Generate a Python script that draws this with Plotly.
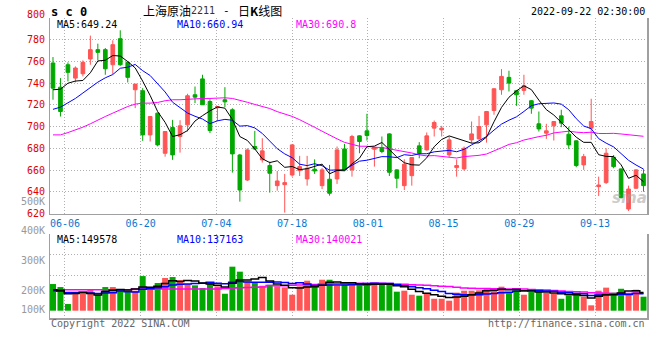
import plotly.graph_objects as go
import pandas as pd

# ---------------- data ----------------
dates = ["06-01", "06-02", "06-06", "06-07", "06-08", "06-09", "06-10", "06-13", "06-14", "06-15",
         "06-16", "06-17", "06-20", "06-21", "06-22", "06-23", "06-24", "06-27", "06-28", "06-29",
         "06-30", "07-01", "07-04", "07-05", "07-06", "07-07", "07-08", "07-11", "07-12", "07-13",
         "07-14", "07-15", "07-18", "07-19", "07-20", "07-21", "07-22", "07-25", "07-26", "07-27",
         "07-28", "07-29", "08-01", "08-02", "08-03", "08-04", "08-05", "08-08", "08-09", "08-10",
         "08-11", "08-12", "08-15", "08-16", "08-17", "08-18", "08-19", "08-22", "08-23", "08-24",
         "08-25", "08-26", "08-29", "08-30", "08-31", "09-01", "09-02", "09-05", "09-06", "09-07",
         "09-08", "09-09", "09-13", "09-14", "09-15", "09-16", "09-19", "09-20", "09-21", "09-22"]

opens = [758.6, 736.4, 757.0, 744.7, 748.7, 762.3, 770.9, 770.9, 757.0, 781.0,
         759.2, 734.0, 733.1, 692.5, 712.5, 675.6, 699.3, 691.0, 701.7, 729.4,
         744.0, 723.2, 717.5, 724.8, 715.6, 674.0, 651.0, 681.8, 669.5, 664.3,
         645.8, 646.7, 655.6, 659.6, 652.0, 660.9, 645.8, 651.7, 652.0, 679.6,
         660.3, 691.6, 696.2, 679.3, 680.8, 693.4, 660.3, 645.8, 655.0, 682.4,
         678.7, 698.7, 697.1, 674.1, 662.4, 661.2, 687.9, 688.8, 701.7, 714.9,
         734.0, 745.4, 733.1, 733.4, 723.9, 702.7, 694.1, 700.8, 710.0, 693.1,
         687.0, 664.9, 698.7, 644.9, 648.6, 671.9, 661.2, 624.3, 643.4, 656.6]
highs = [764.1, 744.7, 759.2, 755.5, 761.0, 783.8, 776.4, 772.4, 779.5, 788.7,
         760.0, 739.2, 735.5, 709.4, 713.0, 696.0, 706.3, 706.0, 730.3, 737.0,
         747.8, 725.4, 719.0, 736.4, 717.0, 675.0, 680.2, 696.2, 689.4, 668.0,
         659.3, 656.6, 684.0, 673.2, 673.2, 670.0, 662.0, 664.9, 681.8, 684.2,
         692.5, 692.0, 711.9, 681.5, 691.0, 694.0, 661.0, 670.0, 672.0, 685.8,
         694.7, 705.7, 700.8, 691.0, 670.0, 681.8, 704.8, 710.0, 714.5, 735.5,
         753.0, 751.5, 733.5, 747.8, 724.5, 714.0, 702.7, 705.0, 715.6, 700.0,
         687.5, 675.0, 725.7, 654.1, 680.2, 674.0, 661.5, 645.8, 661.0, 660.9]
lows = [724.8, 709.4, 741.7, 740.7, 746.3, 757.0, 761.0, 747.8, 748.4, 756.0,
        740.7, 717.1, 687.0, 686.4, 682.0, 672.5, 669.5, 676.2, 695.6, 721.7,
        720.2, 694.1, 705.0, 718.0, 657.8, 631.1, 650.0, 678.7, 667.0, 639.4,
        641.2, 621.0, 654.0, 654.7, 645.8, 656.6, 642.7, 636.6, 647.4, 659.5,
        654.1, 675.6, 687.3, 663.3, 675.6, 654.7, 643.4, 641.8, 645.8, 671.0,
        678.0, 691.0, 691.0, 671.9, 654.1, 659.6, 684.8, 688.0, 685.4, 711.0,
        729.4, 732.4, 719.2, 729.4, 711.9, 695.6, 688.8, 687.3, 699.6, 679.6,
        662.7, 660.3, 687.9, 636.3, 647.4, 661.8, 634.0, 622.5, 643.0, 640.3]
closes = [735.5, 714.0, 750.0, 754.0, 759.2, 770.9, 768.4, 753.3, 775.5, 757.0,
          745.4, 739.2, 692.5, 709.4, 683.3, 695.6, 674.1, 700.8, 728.5, 727.2,
          720.2, 696.5, 718.5, 722.9, 675.0, 641.8, 678.7, 679.6, 677.8, 657.2,
          650.1, 648.6, 683.3, 663.3, 661.8, 659.3, 660.3, 638.8, 678.7, 660.3,
          691.0, 686.4, 691.9, 681.1, 677.2, 658.1, 652.6, 665.5, 671.6, 675.6,
          691.6, 703.9, 698.7, 687.9, 664.3, 680.2, 693.4, 700.2, 714.0, 734.9,
          746.3, 740.1, 729.4, 737.7, 717.1, 698.0, 696.2, 704.8, 703.3, 683.3,
          664.3, 672.5, 704.8, 646.4, 675.6, 663.3, 634.8, 642.7, 660.3, 645.8]
volumes_k = [218.7, 194, 54.7, 142, 150, 169, 131, 194, 194, 178,
             156, 164, 284, 175, 227, 268, 276, 251, 219, 208,
             186, 235, 199.5, 139, 361, 320, 240, 235, 205, 213,
             199.5, 191, 131, 199.5, 246, 213, 254, 254, 205, 216,
             216, 216, 208, 230, 216, 213, 156, 164, 131, 123,
             139, 98, 98, 82, 148, 164, 164, 167, 180, 167,
             197, 148, 180, 131, 153, 156, 145, 139, 98, 126,
             142, 115, 44, 164, 189, 148, 180, 131, 172, 115]

# moving-average values before enough history exists
ma5_head = [734.0, 734.5, 740.0, 742.0]
ma10_head = [716.0, 718.0, 722.0, 726.0, 731.0, 736.0, 741.0, 745.0, 748.0]
ma30_head = [692.5, 692.5, 694.6, 697.0, 699.6, 702.7, 706.3, 709.4, 712.5, 715.6,
             718.6, 720.8, 721.7, 721.7, 722.3, 723.9, 724.8, 724.8, 725.4, 725.7,
             726.0, 726.0, 726.6, 726.6, 726.0, 724.5, 722.5, 720.5, 718.5]
vma5_head = [172, 167, 139, 142]
vma10_head = [164, 159, 150, 150, 150, 145, 142, 145, 148]
vma30_head = [172] * 11 + [178] * 12 + [183, 186, 188, 191, 193, 195]

tick_labels = ["06-06", "06-20", "07-04", "07-18", "08-01", "08-15", "08-29", "09-13"]
price_ticks = [620, 640, 660, 680, 700, 720, 740, 760, 780, 800]
vol_axis_labels = ["500K", "400K", "300K", "200K", "100K"]
ma_price_text = ["MA5:649.24", "MA10:660.94", "MA30:690.8"]
ma_vol_text = ["MA5:149578", "MA10:137163", "MA30:140021"]
title_time = "2022-09-22 02:30:00"

# ---------------- helpers ----------------
RED = "#ff5555"
GREEN = "#00a800"
MONO = "DejaVu Sans Mono"
CJK = "Noto Sans CJK SC"
L, R, T, B = 50, 649, 18, 318


def xp(px):
    return (px - L) / (R - L)


def yp(py):
    return (B - py) / (B - T)


def moving(vals, n, head):
    s = pd.Series(vals, dtype=float).rolling(n).mean()
    out = s.tolist()
    out[:len(head)] = head
    return out


x = list(range(len(dates)))
volumes = [v * 1000 for v in volumes_k]
ma5 = moving(closes, 5, ma5_head)
ma10 = moving(closes, 10, ma10_head)
ma30 = moving(closes, 30, ma30_head)
vma5 = moving(volumes, 5, [v * 1000 for v in vma5_head])
vma10 = moving(volumes, 10, [v * 1000 for v in vma10_head])
vma30 = moving(volumes, 30, [v * 1000 for v in vma30_head])
bar_colors = [RED if c >= o else GREEN for o, c in zip(opens, closes)]

fig = go.Figure()
fig.add_trace(go.Candlestick(
    x=x, open=opens, high=highs, low=lows, close=closes,
    increasing=dict(line=dict(color=RED, width=1), fillcolor=RED),
    decreasing=dict(line=dict(color=GREEN, width=1), fillcolor=GREEN),
    whiskerwidth=0, xaxis="x", yaxis="y", hoverinfo="skip"))
for vals, col in [(ma30, "#ff00ff"), (ma10, "#0000ff"), (ma5, "#000000")]:
    fig.add_trace(go.Scatter(x=x, y=vals, mode="lines", line=dict(color=col, width=1),
                             xaxis="x", yaxis="y", hoverinfo="skip"))

fig.add_trace(go.Bar(x=x, y=volumes, marker=dict(color=bar_colors, line=dict(width=0)),
                     width=0.8, xaxis="x2", yaxis="y2", hoverinfo="skip"))
for vals, col in [(vma30, "#ff00ff"), (vma10, "#0000ff"), (vma5, "#000000")]:
    fig.add_trace(go.Scatter(x=x, y=vals, mode="lines", line=dict(color=col, width=1.5, shape="hvh"),
                             xaxis="x2", yaxis="y2", hoverinfo="skip"))

# layout positions
px_step = 7.5
x0_px = 53
xr = [(L - x0_px) / px_step, (R - x0_px) / px_step]
tick_pos = [1.6 + k * 10.13 for k in range(len(tick_labels))]
GRID = "#b0b0b0"
AXL = "#a0a0a0"
vk = 8200  # volume per pixel
vol_base_px = 310.7
vol_range = [-(B - vol_base_px) * vk, (vol_base_px - 234) * vk]
vol_grid = [(vol_base_px - 254.7) * vk, (vol_base_px - 275.7) * vk, vol_range[1]]

fig.update_layout(
    width=660, height=360,
    margin=dict(l=L, r=660 - R, t=T, b=360 - B),
    paper_bgcolor="white", plot_bgcolor="white",
    showlegend=False, hovermode=False, boxgap=0.3, bargap=0.2,
    xaxis=dict(domain=[0, 1], range=xr, anchor="y", tickvals=tick_pos, ticktext=tick_labels,
               showgrid=True, gridcolor=GRID, griddash="1px,2px", gridwidth=1,
               showline=True, linecolor=AXL, linewidth=1.5, zeroline=False,
               ticks="", tickfont=dict(family=MONO, size=10, color="#0a78d2"),
               rangeslider=dict(visible=False), fixedrange=True),
    yaxis=dict(domain=[yp(213.7), 1], range=[620, 800], anchor="x", tickvals=price_ticks,
               showticklabels=False, showgrid=True, gridcolor=GRID, griddash="1px,2px",
               showline=True, mirror=True, linecolor=AXL, linewidth=1.5, zeroline=False, ticks=""),
    xaxis2=dict(domain=[0, 1], range=xr, anchor="y2", matches="x", tickvals=tick_pos,
                showticklabels=False, showgrid=True, gridcolor=GRID, griddash="1px,2px",
                showline=True, linecolor=AXL, linewidth=1.5, zeroline=False, ticks=""),
    yaxis2=dict(domain=[0, yp(234)], range=vol_range, anchor="x2", tickvals=vol_grid,
                showticklabels=False, showgrid=True, gridcolor=GRID, griddash="1px,2px",
                showline=True, mirror=True, linecolor=AXL, linewidth=1.5, zeroline=False, ticks=""),
)

ann = []


def text(s, px, py, color="#000", size=10, family=MONO, anchor="left", **kw):
    ann.append(dict(text=s, x=xp(px), y=yp(py), xref="paper", yref="paper",
                    xanchor=anchor, yanchor="middle", showarrow=False,
                    font=dict(family=family, size=size, color=color, **kw)))


# header
text("s c 0", 49, 12, size=12, weight="bold")
text("上海原油", 141, 10.5, size=12, family=CJK)
text("2211", 189, 11, size=10, color="#333")
text("-", 222, 10.5, size=11)
text("日<b>K</b>线图", 237, 10.5, size=12, family=CJK)
text(title_time, 649, 12, anchor="right")

# MA legends
for s, px, col in zip(ma_price_text, [55, 175, 295], ["#000", "#0000ff", "#ff00ff"]):
    text(s, px, 24, color=col)
for s, px, col in zip(ma_vol_text, [55, 175, 295], ["#000", "#0000ff", "#ff00ff"]):
    text(s, px, 239, color=col)

# price axis labels (red)
for v in price_ticks:
    ann.append(dict(text=str(v), x=xp(46.5), y=v, xref="paper", yref="y",
                    xanchor="right", yanchor="middle", showarrow=False,
                    yshift=3.5 if v == 800 else 0,
                    font=dict(family=MONO, size=10, color="#e00000")))

# volume axis labels (grey)
for s, py in zip(vol_axis_labels, [201.5, 230.7, 260.7, 290.3, 309.7]):
    text(s, 46.5, py, color="#999999", anchor="right")

# footer
text("Copyright 2022 SINA.COM", 49, 323.5, color="#666666")
text("http://finance.sina.com.cn", 649, 323.5, color="#666666", anchor="right")

# watermark
text("sina", 651, 198, color="rgba(160,160,160,0.55)", size=15, family="DejaVu Sans",
     anchor="right", weight="bold", style="italic")

fig.update_layout(annotations=ann)
fig.write_html("out.html", config={"displayModeBar": False, "staticPlot": True},
               post_script="document.body.style.margin='0';")
